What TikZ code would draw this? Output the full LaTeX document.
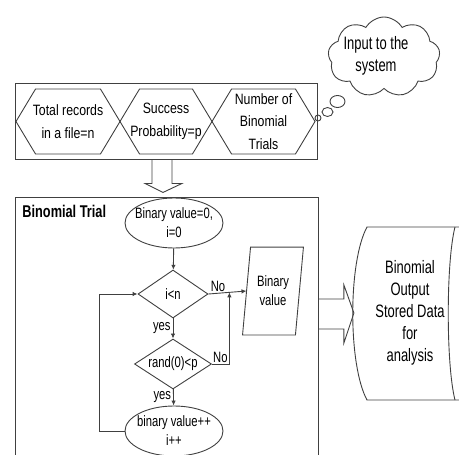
\documentclass[tikz,border=0pt]{standalone}
\usepackage{fontspec}
\setmainfont{Liberation Sans}[FakeStretch=0.82]
\newfontfamily\flowfont{Liberation Sans}[FakeStretch=0.75]
\newfontfamily\storefont{Liberation Sans}[FakeStretch=0.72]
\usetikzlibrary{arrows.meta, positioning, shapes.geometric, shapes.symbols, calc}

\begin{document}
\begin{tikzpicture}[
    x=1pt, y=-1pt,
    font=\flowfont\fontsize{15}{19}\selectfont,
    line width=0.9pt,
    shapetext/.style={align=center, inner sep=0},
    txt/.style={label={[shapetext]center:#1}},
    hextxt/.style={label={[shapetext, font=\fontsize{15}{22.5}\selectfont]center:#1}},
    hexbox/.style={draw=black!75, signal, signal to=west and east, signal pointer angle=118, minimum height=65, inner sep=0},
    startend/.style={draw=black!75, ellipse, minimum width=98, minimum height=50, inner sep=0},
    decision/.style={draw=black!75, diamond, inner sep=0},
    blockarrow/.style={draw=black!75, line join=miter},
    bubble/.style={draw=black!75, ellipse, inner sep=0},
    arrow/.style={-{Latex[length=5pt, width=4.5pt]}, draw=black!75},
    yeslbl/.style={left, inner sep=2pt},
    nolbl/.style={above, inner sep=1pt}
]
\useasboundingbox (0,0) rectangle (459,455);
\clip (0,0) rectangle (459,455);

% inputs
\node[draw=black!75, minimum width=302, minimum height=76, inner sep=0] (inputs) at (166,121) {};
\node[hexbox, minimum width=104, hextxt={Total records\\in a file=n}] (records) at (68,121.5) {};
\node[hexbox, minimum width=92, hextxt={Success\\Probability=p}] (prob) at (166,121.5) {};
\node[hexbox, minimum width=103, hextxt={Number of\\Binomial\\Trials}] (trials) at (263.5,121.5) {};

% thought cloud
\node[cloud, draw=black!75, cloud puffs=9, cloud puff arc=120, minimum width=112, minimum height=80, inner sep=0] (cloud) at (384,57) {};
\node[font=\storefont\fontsize{18}{22}\selectfont, align=center] (cloudtext) at (376,56) {Input to the\\system};
\node[bubble, minimum width=15, minimum height=12] (bubbleA) at (337.5,101.5) {};
\node[bubble, minimum width=11, minimum height=9] (bubbleB) at (327.5,112) {};
\node[bubble, minimum width=6, minimum height=6] (bubbleC) at (318,118) {};

% binomial trial
\node[draw=black!75, minimum width=303, minimum height=280, inner sep=0, anchor=north west] (trial) at (15,197) {};
\node[font=\flowfont\fontsize{17}{19}\selectfont\bfseries, anchor=west, inner sep=0] (title) at (22,211) {Binomial Trial};

\draw[blockarrow] ($(inputs.south)+(-14,0)$) -- ++(20,0) -- ++(0,24) -- ++(10,0) -- ++(-19,9) -- ++(-18,-9) -- ++(7,0) -- cycle;

\node[startend, txt={Binary value=0,\\i=0}] (start) at (174,223) {};
\node[decision, minimum width=70, minimum height=48, txt={i<n}] (cmpn) at (173,294) {};
\node[decision, minimum width=77, minimum height=50, txt={rand(0)<p}] (cmpp) at (173,364) {};
\node[startend, txt={binary value++\\i++}] (incr) at (174,431) {};
\node[minimum width=52, minimum height=87, inner sep=0, txt={Binary\\value}] (binval) at (273,291) {};
\draw[draw=black!75] ($(binval.south west)+(-4,0)$) -- ($(binval.south east)+(-4,0)$) -- ($(binval.north east)+(4,0)$) -- ($(binval.north west)+(4,0)$) -- cycle;
\coordinate (join) at ($(cmpn.east)!0.55!(binval.west)$);

\draw[arrow] (start) -- (cmpn);
\draw[arrow] (cmpn) -- node[yeslbl] {yes} (cmpp);
\draw[arrow] (cmpp) -- node[yeslbl] {yes} (incr);
\draw[arrow] (cmpn.east) -- node[nolbl, pos=0.25] {No} (binval.west);
\draw[arrow] (cmpp.east) -| node[nolbl, pos=0.24] {No} (join);
\draw[arrow] (incr.west) -- ++(-25,0) |- (cmpn.west);

% stored data
\draw[blockarrow] ($(trial.north east)+(0,102)$) -- ++(25,0) -- ++(0,-14) -- ++(10,28) -- ++(-10,30) -- ++(0,-14) -- ++(-25,0);
\node[font=\storefont\fontsize{18}{22}\selectfont, align=center] (stored) at (410,313) {Binomial\\Output\\Stored Data\\for\\analysis};
\draw[draw=black!75] (470,227) -- (367,227) .. controls (348,262) and (348,365) .. (367,400) -- (470,400);
\draw[draw=black!75] (455,227) .. controls (446,262) and (446,365) .. (455,400);

\end{tikzpicture}
\end{document}
